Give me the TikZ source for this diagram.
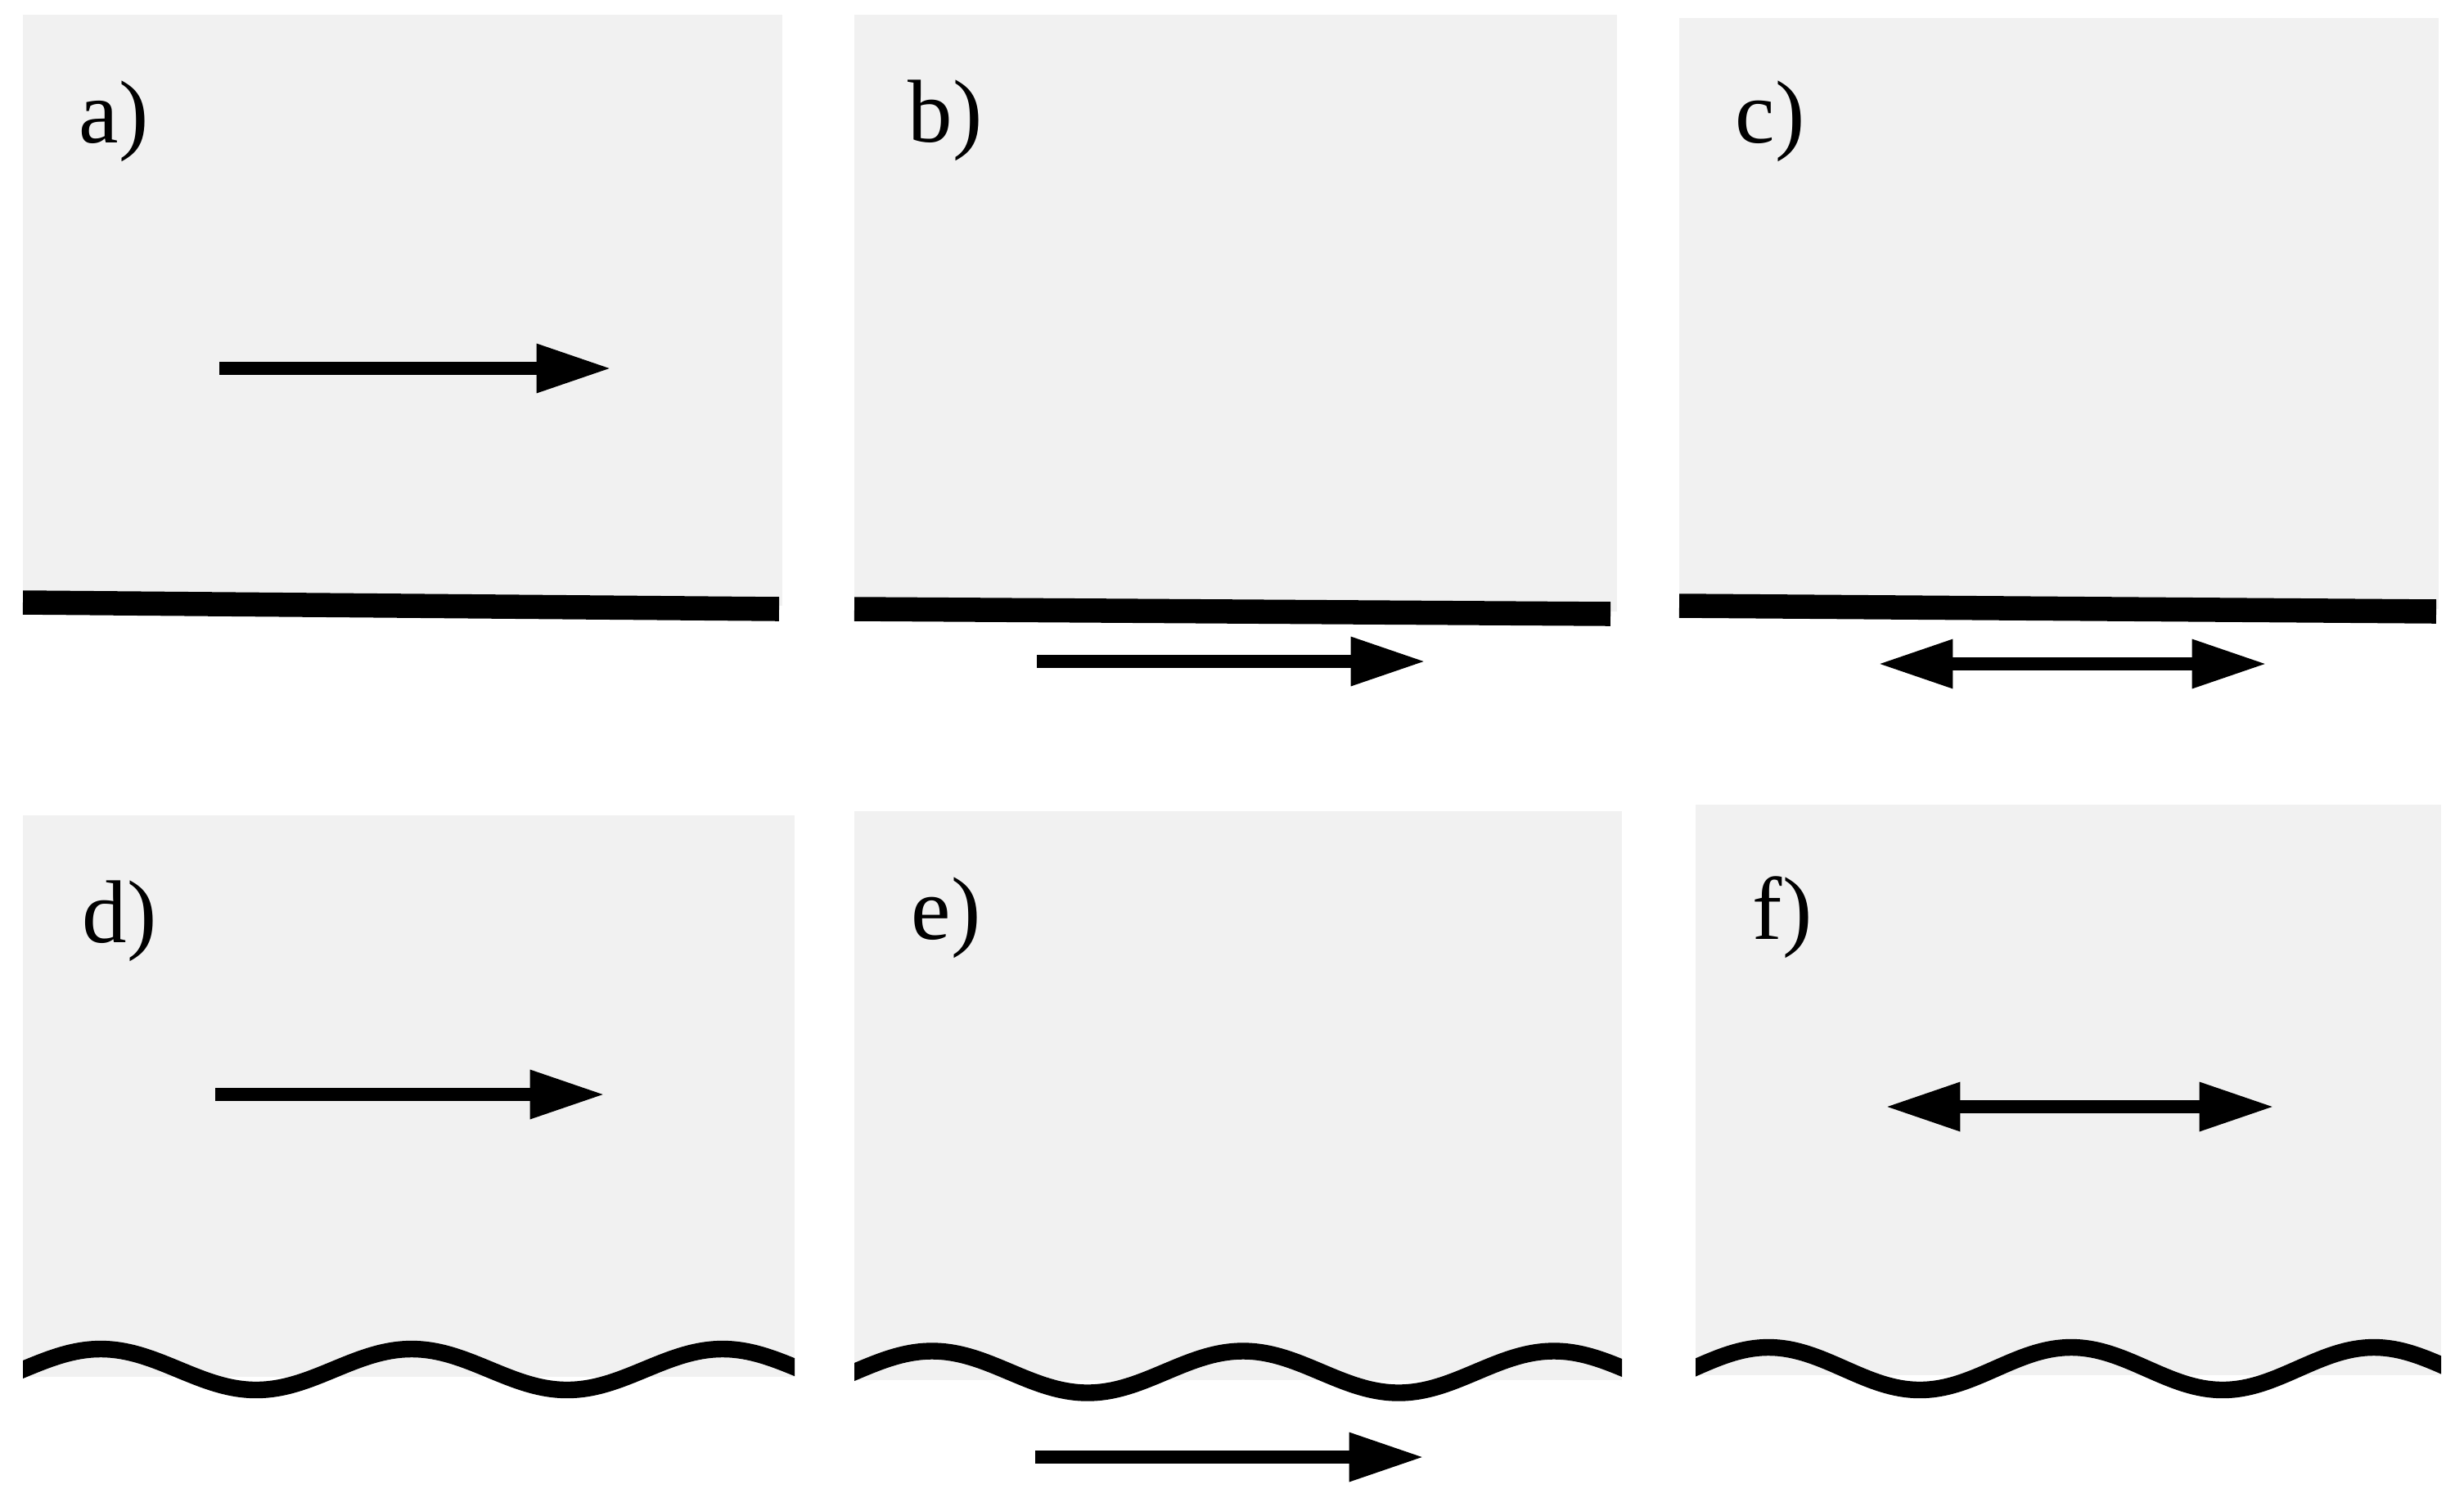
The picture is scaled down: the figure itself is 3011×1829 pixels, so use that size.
\documentclass[tikz,border=0pt]{standalone}
\usepackage{fontspec}
\setmainfont{Liberation Serif}
\usetikzlibrary{arrows.meta}
\definecolor{panelgray}{RGB}{241,241,241}
\begin{document}
\begin{tikzpicture}[x=0.01cm, y=-0.01cm,
  panel/.style={fill=panelgray, draw=none},
  surf/.style={line width=8.4pt, black},
  wave/.style={line width=5.8pt, black},
  flow/.style={line width=4.3pt, -{Triangle[length=26pt,width=16pt]}},
  flowboth/.style={line width=4.3pt, {Triangle[length=26pt,width=16pt]}-{Triangle[length=26pt,width=16pt]}},
  lab/.style={font=\fontsize{31}{36}\selectfont, inner sep=0pt, anchor=base west}]
\useasboundingbox[fill=white] (0,0) rectangle (3011,1829);
% panels
\fill[panel] (28,18) rectangle (956,740);
\fill[panel] (1044,18) rectangle (1976,747);
\fill[panel] (2052,22) rectangle (2980,744);
\fill[panel] (28,996) rectangle (971,1682);
\fill[panel] (1044,991) rectangle (1982,1686);
\fill[panel] (2072,983) rectangle (2983,1680);
% flat walls
\draw[surf] (28,736) -- (952,744);
\draw[surf] (1044,744) -- (1968,750);
\draw[surf] (2052,740) -- (2977,747);
% wavy walls (clipped to panel width)
\begin{scope}
\clip (28,1550) rectangle (971,1800);
\draw[wave] plot[domain=10:990, samples=180, smooth] (\x, {1673 - 25*sin((\x-28)/380*360)});
\end{scope}
\begin{scope}
\clip (1044,1550) rectangle (1982,1800);
\draw[wave] plot[domain=1025:2000, samples=180, smooth] (\x, {1676 - 25.5*sin((\x-1044)/380*360)});
\end{scope}
\begin{scope}
\clip (2072,1550) rectangle (2983,1800);
\draw[wave] plot[domain=2050:3000, samples=180, smooth] (\x, {1672 - 26*sin((\x-2068.5)/370*360)});
\end{scope}
% labels
\node[lab] (la) at (96,174) {a)};
\node[lab] (lb) at (1109,173) {b)};
\node[lab] (lc) at (2120,174) {c)};
\node[lab] (ld) at (100,1151) {d)};
\node[lab] (le) at (1113,1147) {e)};
\node[lab] (lf) at (2141,1147) {f)};
% arrows
\coordinate (a1) at (268,450); \coordinate (a2) at (747,450);
\coordinate (b1) at (1267,808); \coordinate (b2) at (1742,808);
\coordinate (c1) at (2295,811); \coordinate (c2) at (2770,811);
\coordinate (d1) at (263,1337); \coordinate (d2) at (739,1337);
\coordinate (e1) at (1265,1780); \coordinate (e2) at (1740,1780);
\coordinate (f1) at (2304,1352); \coordinate (f2) at (2779,1352);
\draw[flow] (a1) -- (a2);
\draw[flow] (b1) -- (b2);
\draw[flowboth] (c1) -- (c2);
\draw[flow] (d1) -- (d2);
\draw[flow] (e1) -- (e2);
\draw[flowboth] (f1) -- (f2);
\end{tikzpicture}
\end{document}
